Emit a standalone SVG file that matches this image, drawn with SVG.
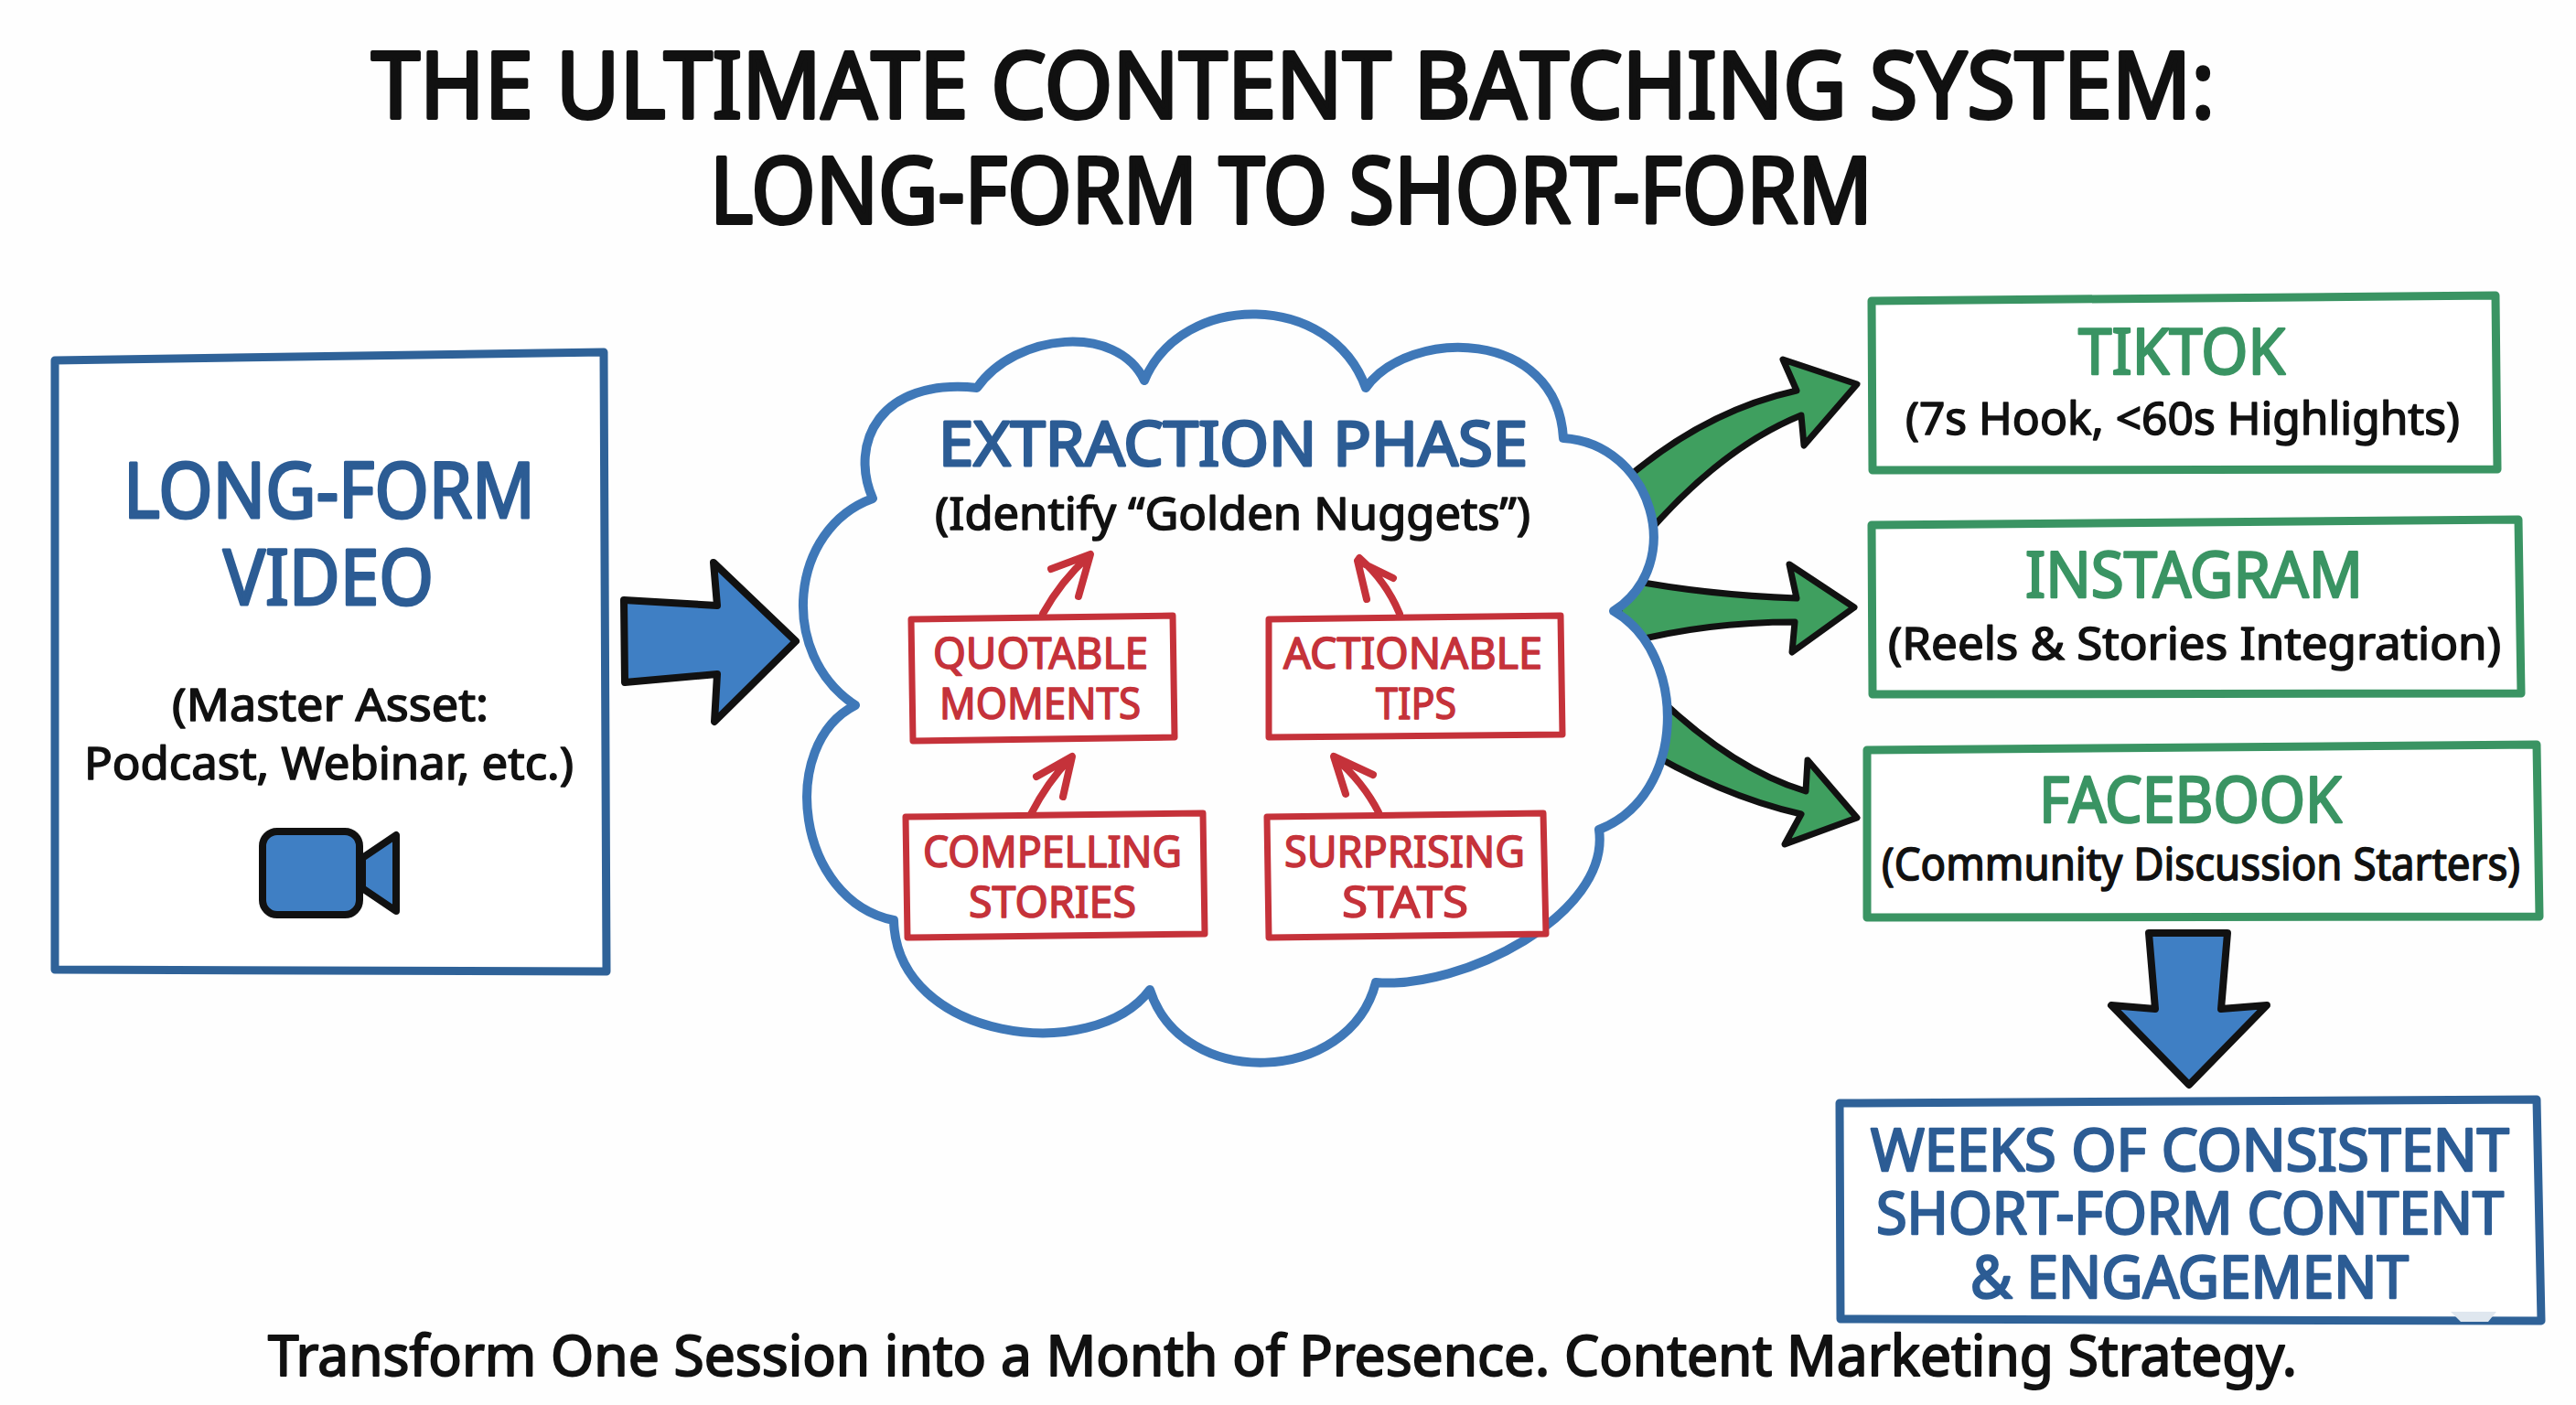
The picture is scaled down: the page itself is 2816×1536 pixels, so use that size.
<svg xmlns="http://www.w3.org/2000/svg" width="2816" height="1536" viewBox="0 0 2816 1536">
<style>
text{font-family:"Noto Sans","Liberation Sans",sans-serif;text-anchor:start;stroke-linejoin:round}
.t{font-size:100px;fill:#111;stroke:#111;stroke-width:4}
.h{font-size:84px;fill:#2c5c94;stroke:#2c5c94;stroke-width:3}
.s{font-size:50px;fill:#111;stroke:#111;stroke-width:1.6}
.g{font-size:70px;fill:#3a9463;stroke:#3a9463;stroke-width:2.5}
.r{font-size:48px;fill:#c5323a;stroke:#c5323a;stroke-width:1.6}
.w{font-size:64px;fill:#2c5c94;stroke:#2c5c94;stroke-width:2.5}
.f{font-size:62px;fill:#111;stroke:#111;stroke-width:2}
.bb{fill:#fff;stroke:#2f6298;stroke-width:9;stroke-linejoin:round}
.gb{fill:#fff;stroke:#3a9463;stroke-width:9;stroke-linejoin:round}
.rb{fill:#fff;stroke:#c5323a;stroke-width:7;stroke-linejoin:round}
.ba{fill:#3f7fc4;stroke:#111;stroke-width:8;stroke-linejoin:round}
.ga{fill:#3f9f5f;stroke:#111;stroke-width:7;stroke-linejoin:round}
.ra{fill:none;stroke:#c5323a;stroke-width:8;stroke-linecap:round;stroke-linejoin:round}
</style>
<defs>
<clipPath id="outside"><path clip-rule="evenodd" d="M0,0H2816V1536H0Z M954,545C928,485 961,413 1068,424C1110,364 1221,353 1251,416C1292,318 1455,318 1493,424C1540,358 1702,358 1709,479C1806,485 1845,616 1764,668C1845,715 1845,869 1748,907C1761,1000 1598,1082 1504,1074C1475,1187 1292,1192 1257,1082C1195,1165 980,1138 977,1006C870,984 850,814 935,771C850,715 863,578 954,545Z"/></clipPath>
</defs>
<rect width="2816" height="1536" fill="#fefefe"/>
<text class="t" x="406" y="129" textLength="2015" lengthAdjust="spacingAndGlyphs">THE ULTIMATE CONTENT BATCHING SYSTEM:</text>
<text class="t" x="776" y="244" textLength="1271" lengthAdjust="spacingAndGlyphs">LONG-FORM TO SHORT-FORM</text>
<g id="connectors">
<path class="ba" d="M682,656L784,662L780,615L870,701L781,789L784,737L683,746Z"/>
<g clip-path="url(#outside)">
<path class="ga" d="M1770,530Q1860,450 1964,427L1949,393L2030,420L1972,487L1969,454Q1880,490 1795,590Z"/>
<path class="ga" d="M1770,632Q1860,650 1964,654L1956,617L2027,664L1959,713L1962,680Q1860,680 1770,705Z"/>
<path class="ga" d="M1800,750Q1890,840 1974,865L1976,831L2030,894L1951,923L1969,890Q1880,870 1785,812Z"/>
</g>
<path class="ra" d="M1140,671Q1160,635 1190,608M1149,622L1192,606L1179,652"/>
<path class="ra" d="M1530,671Q1515,635 1486,610M1523,632L1484,613L1494,655"/>
<path class="ra" d="M1127,890Q1145,855 1170,829M1133,849L1172,827L1162,871"/>
<path class="ra" d="M1507,888Q1490,855 1460,829M1501,847L1458,827L1471,868"/>
<path class="ba" d="M2349,1020L2435,1020L2428,1103L2478,1099L2393,1186L2308,1099L2356,1103Z"/>
</g>
<g id="long-form-video">
<path class="bb" d="M60,394L660,385L663,1062L60,1060Z"/>
<text class="h" x="135" y="566" textLength="450" lengthAdjust="spacingAndGlyphs">LONG-FORM</text>
<text class="h" x="244" y="661" textLength="230" lengthAdjust="spacingAndGlyphs">VIDEO</text>
<text class="s" x="188" y="788" textLength="346" lengthAdjust="spacingAndGlyphs">(Master Asset:</text>
<text class="s" x="92" y="852" textLength="535" lengthAdjust="spacingAndGlyphs">Podcast, Webinar, etc.)</text>
<rect x="287" y="909" width="106" height="91" rx="16" fill="#3f7fc4" stroke="#111" stroke-width="8"/>
<path class="ba" d="M396,938L433,913L433,996L396,971Z"/>
</g>
<g id="extraction-phase">
<path fill="none" stroke="#3f78b8" stroke-width="10" stroke-linejoin="round" d="M954,545C928,485 961,413 1068,424C1110,364 1221,353 1251,416C1292,318 1455,318 1493,424C1540,358 1702,358 1709,479C1806,485 1845,616 1764,668C1845,715 1845,869 1748,907C1761,1000 1598,1082 1504,1074C1475,1187 1292,1192 1257,1082C1195,1165 980,1138 977,1006C870,984 850,814 935,771C850,715 863,578 954,545Z"/>
<text class="h" style="font-size:68px" x="1026" y="509" textLength="644" lengthAdjust="spacingAndGlyphs">EXTRACTION PHASE</text>
<text class="s" x="1022" y="579" textLength="651" lengthAdjust="spacingAndGlyphs">(Identify “Golden Nuggets”)</text>
</g>
<g id="quotable-moments">
<path class="rb" d="M996,677L1282,673L1284,806L998,810Z"/>
<text class="r" x="1020" y="731" textLength="235" lengthAdjust="spacingAndGlyphs">QUOTABLE</text>
<text class="r" x="1027" y="786" textLength="220" lengthAdjust="spacingAndGlyphs">MOMENTS</text>
</g>
<g id="actionable-tips">
<path class="rb" d="M1387,677L1706,673L1708,803L1387,806Z"/>
<text class="r" x="1403" y="731" textLength="283" lengthAdjust="spacingAndGlyphs">ACTIONABLE</text>
<text class="r" x="1504" y="786" textLength="88" lengthAdjust="spacingAndGlyphs">TIPS</text>
</g>
<g id="compelling-stories">
<path class="rb" d="M990,893L1315,889L1317,1021L992,1025Z"/>
<text class="r" x="1009" y="948" textLength="283" lengthAdjust="spacingAndGlyphs">COMPELLING</text>
<text class="r" x="1059" y="1003" textLength="183" lengthAdjust="spacingAndGlyphs">STORIES</text>
</g>
<g id="surprising-stats">
<path class="rb" d="M1385,893L1687,889L1690,1021L1387,1025Z"/>
<text class="r" x="1404" y="948" textLength="263" lengthAdjust="spacingAndGlyphs">SURPRISING</text>
<text class="r" x="1467" y="1003" textLength="138" lengthAdjust="spacingAndGlyphs">STATS</text>
</g>
<g id="tiktok">
<path class="gb" d="M2046,329L2728,323L2730,513L2047,514Z"/>
<text class="g" x="2272" y="409" textLength="226" lengthAdjust="spacingAndGlyphs">TIKTOK</text>
<text class="s" x="2083" y="475" textLength="606" lengthAdjust="spacingAndGlyphs">(7s Hook, &lt;60s Highlights)</text>
</g>
<g id="instagram">
<path class="gb" d="M2046,574L2753,568L2756,758L2047,759Z"/>
<text class="g" x="2214" y="653" textLength="369" lengthAdjust="spacingAndGlyphs">INSTAGRAM</text>
<text class="s" x="2064" y="721" textLength="670" lengthAdjust="spacingAndGlyphs">(Reels &amp; Stories Integration)</text>
</g>
<g id="facebook">
<path class="gb" d="M2041,820L2773,814L2776,1002L2041,1003Z"/>
<text class="g" x="2229" y="899" textLength="331" lengthAdjust="spacingAndGlyphs">FACEBOOK</text>
<text class="s" x="2057" y="962" textLength="698" lengthAdjust="spacingAndGlyphs">(Community Discussion Starters)</text>
</g>
<g id="weeks-of-content">
<path class="bb" d="M2011,1206L2773,1202L2778,1444L2012,1442Z"/>
<path d="M2679,1434L2729,1434L2720,1445L2690,1445Z" fill="#dfe7ef"/>
<text class="w" x="2045" y="1280" textLength="698" lengthAdjust="spacingAndGlyphs">WEEKS OF CONSISTENT</text>
<text class="w" x="2051" y="1349" textLength="686" lengthAdjust="spacingAndGlyphs">SHORT-FORM CONTENT</text>
<text class="w" x="2154" y="1419" textLength="479" lengthAdjust="spacingAndGlyphs">&amp; ENGAGEMENT</text>
</g>
<text class="f" x="293" y="1504" textLength="2218" lengthAdjust="spacingAndGlyphs">Transform One Session into a Month of Presence. Content Marketing Strategy.</text>
</svg>
